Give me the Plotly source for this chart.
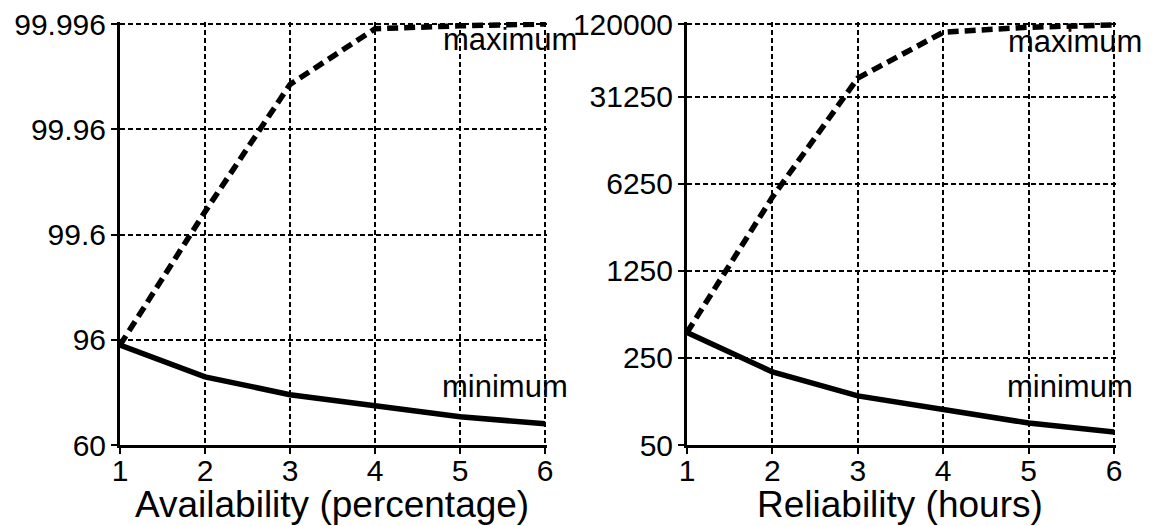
import numpy as np
import plotly.graph_objects as go

# ---------------- data ----------------
components = [1, 2, 3, 4, 5, 6]

# availability (percentage)
avail_max = [95.5, 99.757, 99.985, 99.99556, 99.99584, 99.996]
avail_min = [95.5, 91.0, 86.7, 83.1, 78.4, 74.9]
avail_ticks = [60, 96, 99.6, 99.96, 99.996]
avail_ticktext = ["60", "96", "99.6", "99.96", "99.996"]

# reliability (hours)
rel_max = [400, 4890, 44100, 103000, 113000, 118000]
rel_min = [400, 193, 124, 95.5, 75, 63.5]
rel_ticks = [50, 250, 1250, 6250, 31250, 120000]
rel_ticktext = ["50", "250", "1250", "6250", "31250", "120000"]

x_ticks = [1, 2, 3, 4, 5, 6]


def nines(v):
    # axis transform for availability: equal spacing per "nine"
    return -np.log10(100.0 - np.asarray(v, dtype=float))


# page body has an 8px default margin: compensate so the picture lines up
W, H, OFF = 1154, 526, 8
FW, FH = W - OFF, H - OFF


def px(X):
    return (X - OFF) / FW


def py(Y):
    return 1 - (Y - OFF) / FH


FONT = "Liberation Sans, Arial, Helvetica, sans-serif"
TICK_SIZE = 30
TITLE_SIZE = 37
NOTE_SIZE = 31

# pixel geometry of the two plot boxes (reference pixels)
L_X0, L_X1 = 120, 545
R_X0, R_X1 = 687, 1114
Y_BOT, Y_TOP = 445, 24
PAD = 2  # small extra room so the last gridlines are drawn

x_lo, x_hi = min(x_ticks), max(x_ticks)
lx_pad = PAD * (x_hi - x_lo) / (L_X1 - L_X0)
rx_pad = PAD * (x_hi - x_lo) / (R_X1 - R_X0)

ly_lo, ly_hi = float(nines(avail_ticks[0])), float(nines(avail_ticks[-1]))
ly_pad = PAD * (ly_hi - ly_lo) / (Y_BOT - Y_TOP)
ry_lo, ry_hi = np.log10(rel_ticks[0]), np.log10(rel_ticks[-1])
ry_pad = PAD * (ry_hi - ry_lo) / (Y_BOT - Y_TOP)

fig = go.Figure()

line_w = 5.5
dash_data = "11px,6px"
fig.add_trace(go.Scatter(x=components, y=nines(avail_max), mode="lines",
                         line=dict(color="black", width=line_w, dash=dash_data),
                         xaxis="x", yaxis="y", showlegend=False))
fig.add_trace(go.Scatter(x=components, y=nines(avail_min), mode="lines",
                         line=dict(color="black", width=line_w),
                         xaxis="x", yaxis="y", showlegend=False))
fig.add_trace(go.Scatter(x=components, y=rel_max, mode="lines",
                         line=dict(color="black", width=line_w, dash=dash_data),
                         xaxis="x2", yaxis="y2", showlegend=False))
fig.add_trace(go.Scatter(x=components, y=rel_min, mode="lines",
                         line=dict(color="black", width=line_w),
                         xaxis="x2", yaxis="y2", showlegend=False))

ydom = [py(Y_BOT), py(Y_TOP - PAD)]

common_x = dict(
    tickvals=x_ticks, ticks="outside", ticklen=6, tickwidth=2,
    tickcolor="black", showline=True, linecolor="black", linewidth=3,
    showgrid=True, gridcolor="black", gridwidth=1.5, griddash="5px,3px",
    zeroline=False, tickfont=dict(family=FONT, size=TICK_SIZE, color="black"),
    automargin=False, ticklabelstandoff=-9, ticklabeloverflow="allow",
)
common_y = dict(
    ticks="outside", ticklen=6, tickwidth=2, tickcolor="black",
    showline=True, linecolor="black", linewidth=3,
    showgrid=True, gridcolor="black", gridwidth=1.5, griddash="5px,3px",
    zeroline=False, tickfont=dict(family=FONT, size=TICK_SIZE, color="black"),
    automargin=False, ticklabelstandoff=-1, ticklabeloverflow="allow",
)


def note(text, xref, x, Y, size=NOTE_SIZE, yanchor="middle"):
    return dict(text=text, xref=xref, yref="paper", x=x, y=py(Y),
                xanchor="center", yanchor=yanchor, showarrow=False,
                font=dict(family=FONT, size=size, color="black"))


fig.update_layout(
    width=FW, height=FH,
    margin=dict(l=0, r=0, t=0, b=0),
    paper_bgcolor="white", plot_bgcolor="white",
    xaxis=dict(domain=[px(L_X0), px(L_X1 + PAD)], anchor="y",
               range=[x_lo, x_hi + lx_pad], **common_x),
    yaxis=dict(domain=ydom, anchor="x",
               range=[ly_lo, ly_hi + ly_pad],
               tickvals=list(nines(avail_ticks)), ticktext=avail_ticktext,
               **common_y),
    xaxis2=dict(domain=[px(R_X0), px(R_X1 + PAD)], anchor="y2",
                range=[x_lo, x_hi + rx_pad], **common_x),
    yaxis2=dict(domain=ydom, anchor="x2", type="log",
                range=[ry_lo, ry_hi + ry_pad],
                tickvals=rel_ticks, ticktext=rel_ticktext,
                **common_y),
    annotations=[
        note("maximum", "x domain", 0.914, 40),
        note("minimum", "x domain", 0.901, 386),
        note("maximum", "x2 domain", 0.905, 42),
        note("minimum", "x2 domain", 0.893, 386),
        note("Availability (percentage)", "x domain", 0.497, 482,
             size=TITLE_SIZE, yanchor="top"),
        note("Reliability (hours)", "x2 domain", 0.497, 482,
             size=TITLE_SIZE, yanchor="top"),
    ],
)

fig.write_html("out.html")
